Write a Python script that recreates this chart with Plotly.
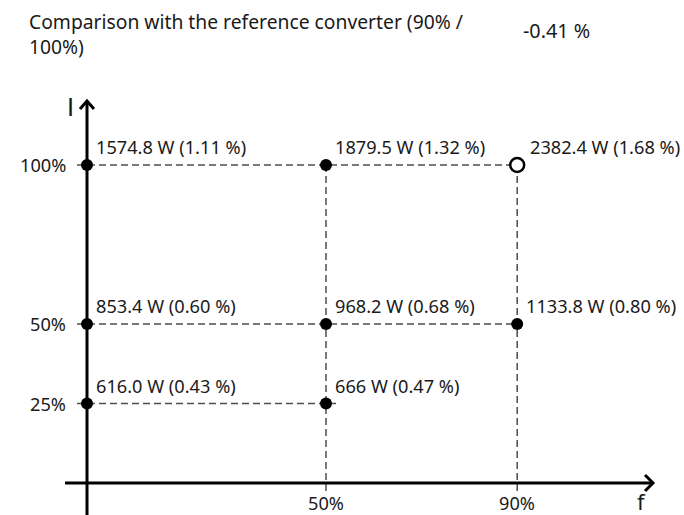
import plotly.graph_objects as go

# ---- data ----
f_ticks = [50, 90]
f_tick_labels = ["50%", "90%"]
i_ticks = [25, 50, 100]
i_tick_labels = ["25%", "50%", "100%"]

pt_f = [0, 50, 0, 50, 90, 0, 50, 90]
pt_i = [25, 25, 50, 50, 50, 100, 100, 100]
loss_w = ["616.0", "666", "853.4", "968.2", "1133.8", "1574.8", "1879.5", "2382.4"]
loss_pct = ["0.43", "0.47", "0.60", "0.68", "0.80", "1.11", "1.32", "1.68"]
reference_point = (90, 100)

title_text = "Comparison with the reference converter (90% /<br>100%)"
comparison_value = "-0.41 %"

# ---- layout constants ----
W, H = 684, 515
X0PX, XSCALE = 87, 4.78      # px of f=0, px per %
Y0PX, YSCALE = 483, 3.18     # px of I=0, px per %
xr = [-X0PX / XSCALE, (W - X0PX) / XSCALE]
yr = [-(H - Y0PX) / YSCALE, Y0PX / YSCALE]

FONT = "Noto Sans"
TXT = "#1a1a1a"
DASH = "#4d4d4d"
FS = 18.2

fig = go.Figure()
shapes = []
annotations = []

# dashed guide lines
for lvl in i_ticks:
    xs = [f for f, i in zip(pt_f, pt_i) if i == lvl]
    xend = max(xs)
    if lvl == min(i_ticks):
        xend += 10 / XSCALE
    shapes.append(dict(type="line", x0=-10 / XSCALE, x1=xend, y0=lvl, y1=lvl,
                       line=dict(color=DASH, width=1.5, dash="7px,4px"), layer="below"))
for fl in f_ticks:
    ys = [i for f, i in zip(pt_f, pt_i) if f == fl]
    shapes.append(dict(type="line", x0=fl, x1=fl, y0=-8 / YSCALE, y1=max(ys),
                       line=dict(color=DASH, width=1.5, dash="7px,4px"), layer="below"))

# axes
ax_x_end = (653 - X0PX) / XSCALE
ax_y_end = (Y0PX - 101) / YSCALE
shapes.append(dict(type="line", x0=-22 / XSCALE, x1=ax_x_end, y0=0, y1=0,
                   line=dict(color="black", width=3)))
shapes.append(dict(type="line", x0=0, x1=0, y0=yr[0], y1=ax_y_end,
                   line=dict(color="black", width=3)))
# arrow heads (pixel-size chevrons)
shapes.append(dict(type="path", xsizemode="pixel", ysizemode="pixel",
                   xanchor=ax_x_end, yanchor=0,
                   path="M -8 8 L 0 0 L -8 -8", line=dict(color="black", width=3)))
shapes.append(dict(type="path", xsizemode="pixel", ysizemode="pixel",
                   xanchor=0, yanchor=ax_y_end,
                   path="M -7 -8 L 0 0 L 7 -8", line=dict(color="black", width=3)))

# axis titles
annotations.append(dict(x=ax_x_end, y=0, xref="x", yref="y", text="f", showarrow=False,
                        xshift=-12, yshift=-18, font=dict(size=22, color=TXT, family=FONT)))
annotations.append(dict(x=0, y=ax_y_end, xref="x", yref="y", text="I", showarrow=False,
                        xshift=-17, yshift=-7, font=dict(size=24, color=TXT, family="DejaVu Sans")))

# tick labels
for v, t in zip(i_ticks, i_tick_labels):
    annotations.append(dict(x=0, y=v, xref="x", yref="y", text=t, showarrow=False,
                            xanchor="right", xshift=-19, font=dict(size=FS, color=TXT, family=FONT)))
for v, t in zip(f_ticks, f_tick_labels):
    annotations.append(dict(x=v, y=0, xref="x", yref="y", text=t, showarrow=False,
                            yshift=-20, font=dict(size=FS, color=TXT, family=FONT)))

# point labels
for f, i, w, p in zip(pt_f, pt_i, loss_w, loss_pct):
    is_ref = (f, i) == reference_point
    annotations.append(dict(x=f, y=i, xref="x", yref="y", text=f"{w} W ({p} %)",
                            showarrow=False, xanchor="left",
                            xshift=11 if is_ref else 7, yshift=18,
                            font=dict(size=FS, color=TXT, family=FONT)))

# points
filled = [(f, i) for f, i in zip(pt_f, pt_i) if (f, i) != reference_point]
fig.add_trace(go.Scatter(x=[p[0] for p in filled], y=[p[1] for p in filled], mode="markers",
                         marker=dict(size=12, color="black"), hoverinfo="skip"))
fig.add_trace(go.Scatter(x=[reference_point[0]], y=[reference_point[1]], mode="markers",
                         marker=dict(size=14, color="white", line=dict(color="black", width=2.5)),
                         hoverinfo="skip"))

# header texts (pixel positions -> paper coords)
annotations.append(dict(x=27 / W, y=1 - 6 / H, xref="paper", yref="paper", text=title_text,
                        showarrow=False, font=dict(size=19.3, color=TXT, family=FONT),
                        xanchor="left", yanchor="top", align="left"))
annotations.append(dict(x=521 / W, y=1 - 31 / H, xref="paper", yref="paper", text=comparison_value,
                        showarrow=False, font=dict(size=19.8, color=TXT, family=FONT),
                        xanchor="left", yanchor="middle"))

fig.update_layout(
    width=W, height=H, margin=dict(l=0, r=0, t=0, b=0),
    paper_bgcolor="white", plot_bgcolor="white", showlegend=False,
    xaxis=dict(range=xr, visible=False, fixedrange=True),
    yaxis=dict(range=yr, visible=False, fixedrange=True),
    shapes=shapes, annotations=annotations,
)
fig.write_html("out.html", post_script="document.body.style.margin='0';",
               config={"displayModeBar": False})
